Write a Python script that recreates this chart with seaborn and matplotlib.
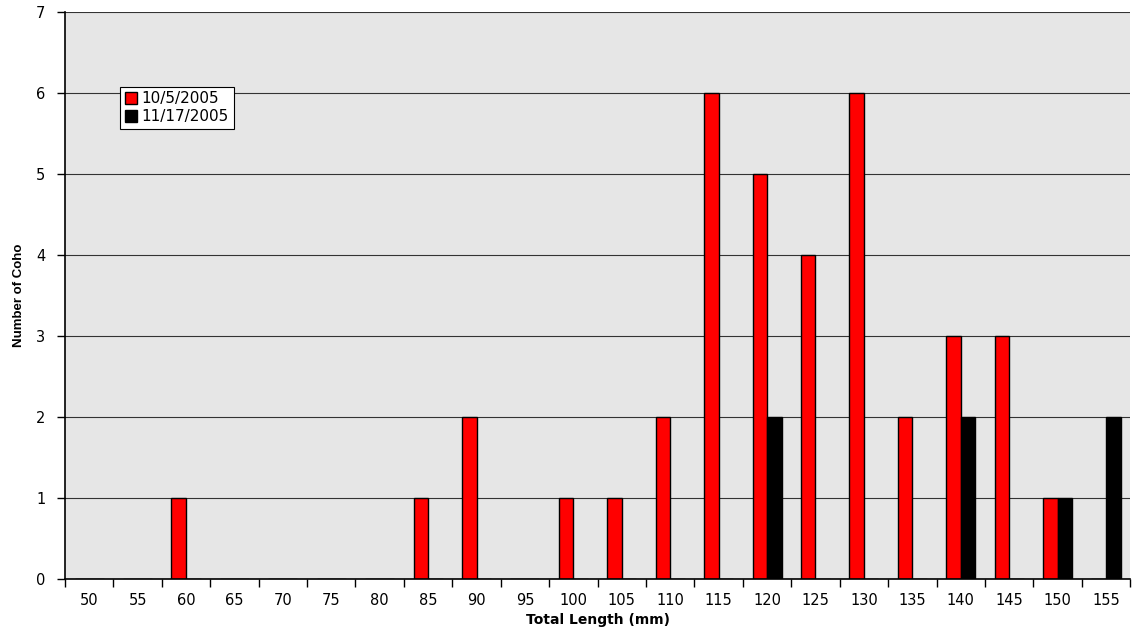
import numpy as np
import pandas as pd
import matplotlib
matplotlib.use("Agg")
import matplotlib.pyplot as plt
import seaborn as sns

# Data
lengths = [50, 55, 60, 65, 70, 75, 80, 85, 90, 95, 100, 105, 110,
           115, 120, 125, 130, 135, 140, 145, 150, 155]
oct_counts = [0, 0, 1, 0, 0, 0, 0, 1, 2, 0, 1, 1, 2,
              6, 5, 4, 6, 2, 3, 3, 1, 0]
nov_counts = [0, 0, 0, 0, 0, 0, 0, 0, 0, 0, 0, 0, 0,
              0, 2, 0, 0, 0, 2, 0, 1, 2]
series = ["10/5/2005", "11/17/2005"]

df = pd.DataFrame({
    "length": [str(v) for v in lengths] * 2,
    "count": oct_counts + nov_counts,
    "date": [series[0]] * len(lengths) + [series[1]] * len(lengths),
})

sns.set_style("white")
plt.rcParams["font.family"] = ["DejaVu Sans"]
plt.rcParams.update({"text.color": "black", "axes.labelcolor": "black",
                     "xtick.color": "black", "ytick.color": "black"})

fig = plt.figure(figsize=(11.32, 6.34), dpi=100)
ax = fig.add_axes([0.0574, 0.0868, 0.9410, 0.8943])
ax.set_facecolor("#E6E6E6")

sns.barplot(data=df, x="length", y="count", hue="date",
            palette={series[0]: "#FF0000", series[1]: "#000000"},
            saturation=1, width=0.6, edgecolor="black", linewidth=1.0, ax=ax,
            order=[str(v) for v in lengths], hue_order=series)

ax.set_ylim(0, 7)
ax.set_xlim(-0.5, len(lengths) - 0.5)
ax.set_yticks(range(0, 8))
ax.yaxis.grid(True, color="#333333", linewidth=0.8)
ax.set_axisbelow(True)

# x ticks: labels at centres, tick marks at category boundaries
ax.set_xticks(np.arange(len(lengths)))
ax.set_xticklabels([str(v) for v in lengths])
ax.set_xticks(np.arange(len(lengths) + 1) - 0.5, minor=True)
ax.tick_params(axis="x", which="major", bottom=False, length=0, pad=10, labelsize=10.5)
ax.tick_params(axis="x", which="minor", bottom=True, length=6, width=1,
               color="black", direction="out")
ax.tick_params(axis="y", left=True, length=6, width=1, color="black",
               direction="out", labelsize=10.5, pad=8)

for s in ["top", "right"]:
    ax.spines[s].set_visible(False)
for s in ["left", "bottom"]:
    ax.spines[s].set_color("black")
    ax.spines[s].set_linewidth(1.2)

ax.set_xlabel("Total Length (mm)", fontsize=10, fontweight="bold", labelpad=4)
ax.set_ylabel("Number of Coho", fontsize=9.5, fontweight="bold", labelpad=8,
              family="Liberation Sans")

leg = ax.legend(loc="upper left", bbox_to_anchor=(0.052, 0.868), frameon=True,
                fancybox=False, edgecolor="black", framealpha=1, fontsize=11,
                handlelength=0.8, handleheight=0.8, handletextpad=0.3,
                borderpad=0.3, labelspacing=0.2, borderaxespad=0)
leg.get_frame().set_linewidth(0.8)

fig.savefig("out.png", dpi=100)
